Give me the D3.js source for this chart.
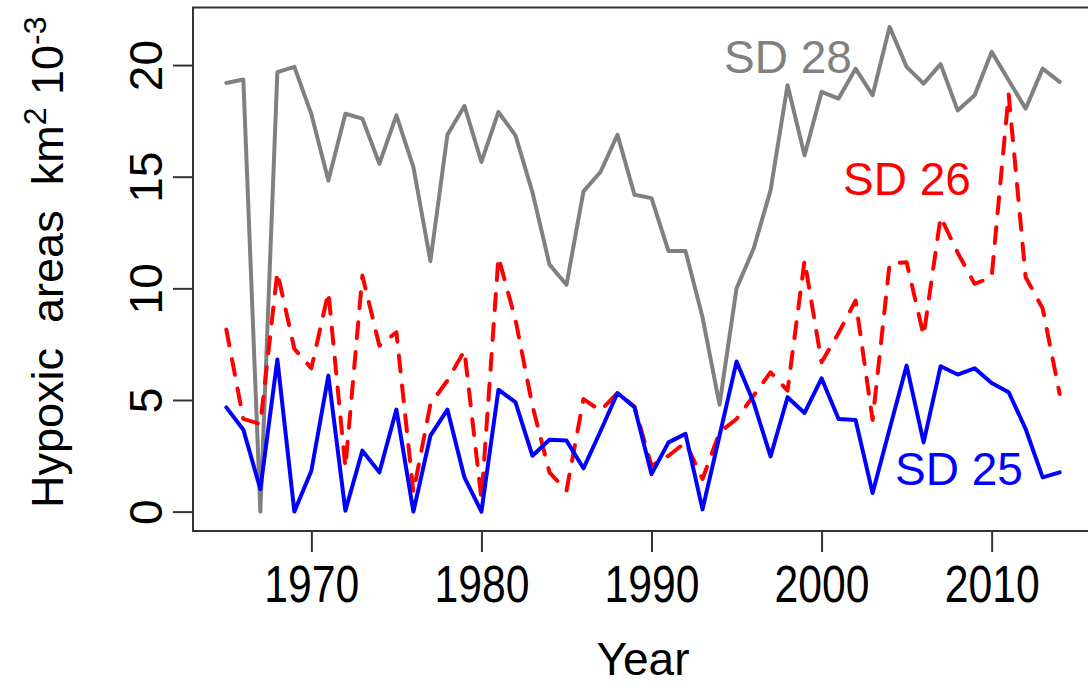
<!DOCTYPE html>
<html>
<head>
<meta charset="utf-8">
<script src="https://cdn.jsdelivr.net/npm/d3@7"></script>
<style>
  html, body { margin: 0; padding: 0; background: #fff; }
  svg text { font-family: "Liberation Sans", Arial, sans-serif; }
</style>
</head>
<body>
<svg id="chart" width="1088" height="688"></svg>
<script>
// hypoxic areas per Baltic sub-division, km2 * 10^-3
const years = [1965, 1966, 1967, 1968, 1969, 1970, 1971, 1972, 1973, 1974,
  1975, 1976, 1977, 1978, 1979, 1980, 1981, 1982, 1983, 1984,
  1985, 1986, 1987, 1988, 1989, 1990, 1991, 1992, 1993, 1994,
  1995, 1996, 1997, 1998, 1999, 2000, 2001, 2002, 2003, 2004,
  2005, 2006, 2007, 2008, 2009, 2010, 2011, 2012, 2013, 2014];

const sd28 = [19.2, 19.35, 0, 19.68, 19.92, 17.8, 14.83, 17.82, 17.6, 15.58,
  17.75, 15.43, 11.22, 16.88, 18.17, 15.66, 17.9, 16.85, 14.3, 11.07,
  10.16, 14.34, 15.21, 16.88, 14.19, 14.04, 11.67, 11.67, 8.7, 4.79,
  10.0, 11.77, 14.39, 19.1, 15.96, 18.8, 18.5, 19.84, 18.65, 21.71,
  19.92, 19.17, 20.04, 17.97, 18.65, 20.59, 19.32, 18.05, 19.84, 19.25];

const sd26 = [8.15, 4.15, 3.92, 10.73, 7.29, 6.42, 9.83, 1.98, 10.57, 7.43,
  8.03, 0.86, 4.82, 5.87, 7.21, 0.56, 11.4, 8.6, 4.74, 1.76,
  0.93, 5.04, 4.52, 5.31, 4.7, 2.05, 2.5, 3.1, 1.46, 3.55,
  4.15, 5.19, 6.24, 5.42, 11.25, 6.69, 8.0, 9.45, 4.1, 11.1,
  11.17, 7.88, 13.2, 11.6, 10.2, 10.5, 18.7, 10.5, 9.1, 5.27];

const sd25 = [4.67, 3.67, 1.0, 6.81, 0, 1.83, 6.09, 0.04, 2.73, 1.76,
  4.57, 0, 3.4, 4.57, 1.53, 0, 5.46, 4.9, 2.5, 3.22,
  3.18, 1.94, 3.6, 5.31, 4.67, 1.68, 3.1, 3.48, 0.1, 3.4,
  6.72, 4.9, 2.47, 5.12, 4.42, 5.97, 4.15, 4.1, 0.83, 3.7,
  6.54, 3.1, 6.51, 6.14, 6.42, 5.76, 5.35, 3.7, 1.53, 1.76];

const xTicks = [1970, 1980, 1990, 2000, 2010];
const yTicks = [0, 5, 10, 15, 20];

const seriesNames = ["SD 28", "SD 26", "SD 25"];
const seriesColors = ["#808080", "#ff0000", "#0000ff"];

const svg = d3.select("#chart");

// plot region (right edge falls just outside the picture, like the original)
const plotLeft = 193, plotRight = 1093, plotTop = 7.5, plotBottom = 531;

// R style 4% padding on both axes
function padded(lo, hi) {
  const r = hi - lo;
  return [lo - 0.04 * r, hi + 0.04 * r];
}

const x = d3.scaleLinear()
  .domain(padded(d3.min(years), d3.max(years)))
  .range([plotLeft, plotRight]);

const allVals = sd28.concat(sd26, sd25);
const y = d3.scaleLinear()
  .domain(padded(d3.min(allVals), d3.max(allVals)))
  .range([plotBottom, plotTop]);

// lines
const line = d3.line()
  .x((d) => x(d[0]))
  .y((d) => y(d[1]));

const series = [sd28, sd26, sd25];
series.forEach((vals, i) => {
  svg.append("path")
    .datum(years.map((yr, j) => [yr, vals[j]]))
    .attr("d", line)
    .attr("fill", "none")
    .attr("stroke", seriesColors[i])
    .attr("stroke-width", 4)
    .attr("stroke-linejoin", "round")
    .attr("stroke-linecap", "round")
    .attr("stroke-dasharray", i === 1 ? "16,14" : null);
});

// box
svg.append("rect")
  .attr("x", plotLeft)
  .attr("y", plotTop)
  .attr("width", plotRight - plotLeft)
  .attr("height", plotBottom - plotTop)
  .attr("fill", "none")
  .attr("stroke", "#333")
  .attr("stroke-width", 2);

// x axis
const xAxis = svg.append("g")
  .attr("transform", `translate(0,${plotBottom})`)
  .call(d3.axisBottom(x).tickValues(xTicks).tickSize(21).tickFormat(d3.format("d")));
xAxis.select(".domain").remove();
xAxis.selectAll(".tick line").attr("stroke", "#333").attr("stroke-width", 2);
xAxis.selectAll(".tick text")
  .attr("y", 71)
  .attr("dy", null)
  .attr("fill", "#000")
  .style("font-size", "51px")
  .attr("textLength", 95)
  .attr("lengthAdjust", "spacingAndGlyphs");

// y axis
const yAxis = svg.append("g")
  .attr("transform", `translate(${plotLeft},0)`)
  .call(d3.axisLeft(y).tickValues(yTicks).tickSize(20));
yAxis.select(".domain").remove();
yAxis.selectAll(".tick line").attr("stroke", "#333").attr("stroke-width", 2);
yAxis.selectAll(".tick text")
  .attr("x", null)
  .attr("dy", null)
  .attr("transform", "translate(-31,0) rotate(-90)")
  .attr("text-anchor", "middle")
  .attr("fill", "#000")
  .style("font-size", "46px");

// axis titles
svg.append("text")
  .attr("x", (plotLeft + plotRight) / 2)
  .attr("y", 675)
  .attr("text-anchor", "middle")
  .attr("fill", "#000")
  .style("font-size", "46px")
  .text("Year");

const yTitle = svg.append("text")
  .attr("transform", `translate(63,${(plotTop + plotBottom) / 2 - 7}) rotate(-90)`)
  .attr("text-anchor", "middle")
  .attr("fill", "#000")
  .style("font-size", "45px")
  .style("white-space", "pre");
yTitle.append("tspan").text("Hypoxic  areas  km");
yTitle.append("tspan").attr("dy", -17).style("font-size", "32px").text("2");
yTitle.append("tspan").attr("dy", 17).text(" 10");
yTitle.append("tspan").attr("dy", -17).style("font-size", "32px").text("-3");

// series labels
const labelPos = [[724, 73], [843, 195], [895, 485]];
seriesNames.forEach((name, i) => {
  svg.append("text")
    .attr("x", labelPos[i][0])
    .attr("y", labelPos[i][1])
    .attr("fill", seriesColors[i])
    .style("font-size", "46px")
    .text(name);
});
</script>
</body>
</html>
